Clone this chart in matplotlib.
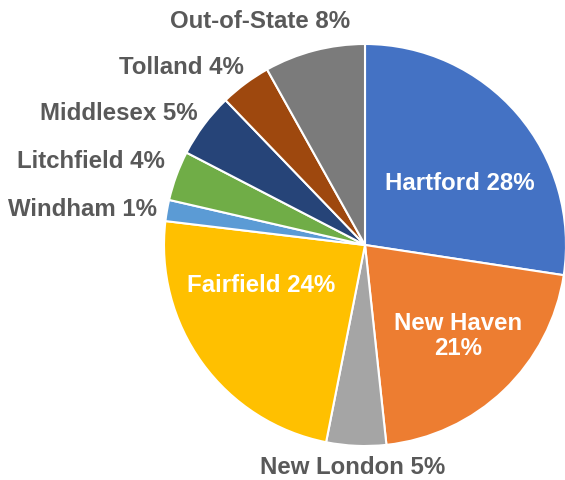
import matplotlib
matplotlib.use("Agg")
from matplotlib import pyplot as plt

# slices clockwise from 12 o'clock
counties = ['Hartford', 'New Haven', 'New London', 'Fairfield', 'Windham',
            'Litchfield', 'Middlesex', 'Tolland', 'Out-of-State']
shares = [27.4, 20.9, 4.8, 23.8, 1.7, 4.0, 5.2, 4.1, 8.1]
pct_labels = ['28%', '21%', '5%', '24%', '1%', '4%', '5%', '4%', '8%']

colors = ['#4472C4', '#ED7D31', '#A5A5A5', '#FFC000', '#5B9BD5',
          '#70AD47', '#264478', '#9E480E', '#7B7B7B']

# where each label sits (pixels from top-left) and its colour
label_pos = [(460, 184), (458, 336), (353, 468), (261, 285), (83, 210),
             (91, 162), (119, 113), (181, 68), (260, 22)]
inside = [True, True, False, True, False, False, False, False, False]

W, H = 565, 481
fig = plt.figure(figsize=(W / 100, H / 100), dpi=100)
ax = fig.add_axes([0, 0, 1, 1])

ax.pie(shares, colors=colors, startangle=90, counterclock=False,
       center=(365, H - 246), radius=201,
       wedgeprops=dict(edgecolor='white', linewidth=1.5))

for name, pct, (x, y), ins in zip(counties, pct_labels, label_pos, inside):
    txt = name + ' ' + pct
    if name == 'New Haven':
        txt = name + '\n' + pct
    ax.text(x, H - y, txt, ha='center', va='center', fontsize=17.3,
            fontweight='bold', family='Liberation Sans',
            color='white' if ins else '#595959', linespacing=1.15)

ax.set_xlim(0, W)
ax.set_ylim(0, H)
ax.set_aspect('equal')
ax.axis('off')

fig.savefig('out.png', dpi=100)
